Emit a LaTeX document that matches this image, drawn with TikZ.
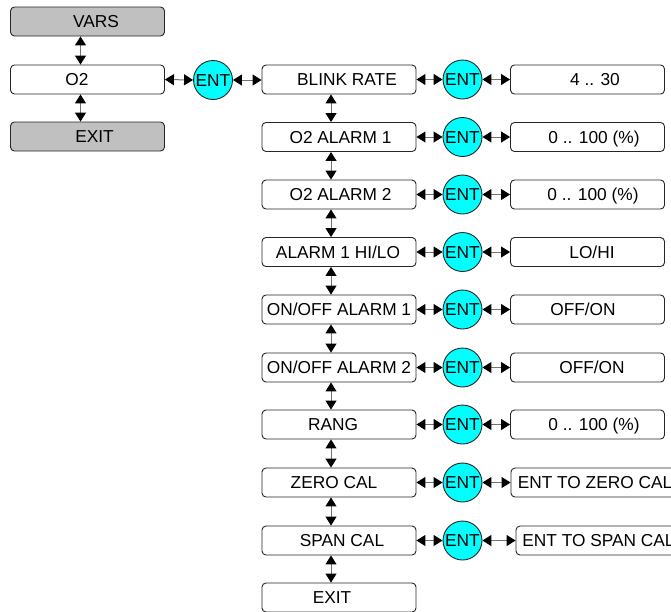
\documentclass[tikz,border=0pt]{standalone}
\usepackage{fontspec}
\setmainfont{Liberation Sans}
\usetikzlibrary{arrows.meta}
\definecolor{boxgray}{RGB}{192,192,192}
\definecolor{entcyan}{RGB}{0,255,255}
\newcommand{\shft}[2]{\makebox[0pt]{\hspace*{#1pt}#2}}
\begin{document}
\begin{tikzpicture}[x=1pt,y=-1pt,
 menubox/.style={draw=black!85, line width=0.9pt, rounded corners=4pt, minimum width=154pt, minimum height=29pt, inner sep=0pt, text height=12.4pt, text depth=0pt, font=\fontsize{17.3}{20}\selectfont},
 graybox/.style={menubox, fill=boxgray},
 entnode/.style={circle, draw=black!85, line width=0.9pt, fill=entcyan, minimum size=39pt, inner sep=0pt, text height=12.4pt, text depth=0pt, font=\fontsize{17.3}{20}\selectfont},
 dbl/.style={draw=black!55, line width=1pt, {Triangle[length=9pt,width=11pt,black]}-{Triangle[length=9pt,width=11pt,black]}}]
\useasboundingbox (0,0) rectangle (671,611);
\clip (0,0) rectangle (671,611);
% left column
\node[graybox] (vars) at (87.5,21.5) {\shft{17}{VARS}};
\node[menubox] (o2) at (87.5,79.5) {\shft{-21}{O2}};
\node[graybox] (lexit) at (87.5,136.5) {\shft{14}{EXIT}};
\node[entnode] (ent0) at (213,80) {ENT};
\draw[dbl] ([xshift=-7pt]vars.south) -- ([xshift=-7pt]o2.north);
\draw[dbl] ([xshift=-7pt]o2.south) -- ([xshift=-7pt]lexit.north);
\draw[dbl] (o2.east) -- (ent0.west);
% middle column
\node[menubox] (m1) at (339,79.5) {\shft{16}{BLINK RATE}};
\node[menubox] (m2) at (339,137) {\shft{3}{O2 ALARM 1}};
\node[menubox] (m3) at (339,194.5) {\shft{3}{O2 ALARM 2}};
\node[menubox] (m4) at (339,252) {\shft{-2}{ALARM 1 HI/LO}};
\node[menubox] (m5) at (339,309.5) {ON/OFF ALARM 1};
\node[menubox] (m6) at (339,367.5) {ON/OFF ALARM 2};
\node[menubox] (m7) at (339,424.5) {\shft{-12}{RANG}};
\node[menubox] (m8) at (339,482.5) {\shft{-10}{ZERO CAL}};
\node[menubox] (m9) at (339,540.5) {\shft{6}{SPAN CAL}};
\node[menubox] (m10) at (339,597.5) {\shft{-14}{EXIT}};
\draw[dbl] (ent0.east) -- (ent0.east -| m1.west);
\foreach \a/\b in {m1/m2,m2/m3,m3/m4,m4/m5,m5/m6,m6/m7,m7/m8,m8/m9,m9/m10}
  \draw[dbl] ([xshift=-8pt]\a.south) -- ([xshift=-8pt]\b.north);
% ENT nodes
\foreach \i in {1,...,9}
  \node[entnode] (e\i) at (462.5,0 |- m\i.center) {ENT};
\foreach \i in {1,...,9}
  \draw[dbl] (m\i.east) -- (e\i.west);
% right column
\node[menubox] (r1) at (587.5,79.5) {\shft{15}{4 .. 30}};
\node[menubox] (r2) at (587.5,137) {\shft{13}{0 .. 100 (\%)}};
\node[menubox] (r3) at (587.5,194.5) {\shft{11}{0 .. 100 (\%)}};
\node[menubox] (r4) at (587.5,252) {\shft{9}{LO/HI}};
\node[menubox] (r5) at (587.5,309.5) {\shft{-9}{OFF/ON}};
\node[menubox] (r6) at (587.5,367.5) {\shft{9}{OFF/ON}};
\node[menubox] (r7) at (587.5,424.5) {\shft{13}{0 .. 100 (\%)}};
\node[menubox, minimum width=190pt] (r8) at (606,482.5) {\shft{-22}{ENT TO ZERO CAL}};
\node[menubox, minimum width=190pt] (r9) at (611,540.5) {\shft{-25}{ENT TO SPAN CAL}};
\foreach \i in {1,...,9}
  \draw[dbl] (e\i.east) -- (r\i.west);
\end{tikzpicture}
\end{document}
